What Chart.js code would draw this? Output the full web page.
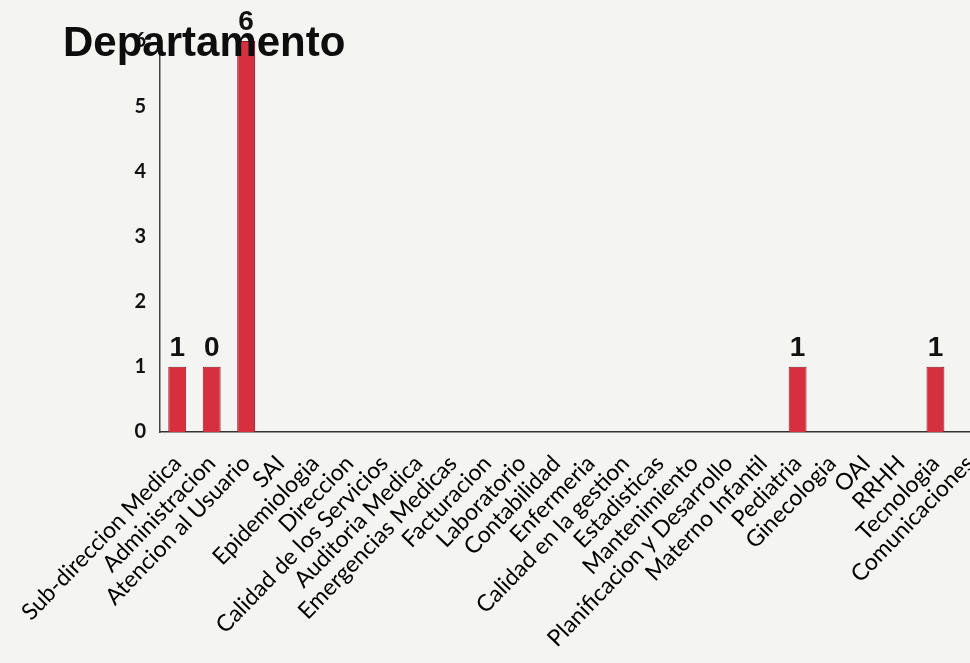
<!DOCTYPE html>
<html>
<head>
<meta charset="utf-8">
<script src="https://cdn.jsdelivr.net/npm/chart.js@4/dist/chart.umd.min.js"></script>
<style>
  html, body { margin: 0; padding: 0; background: #f4f4f3; overflow: hidden; }
  #myChart { display: block; }
</style>
</head>
<body>
<canvas id="myChart" width="1008" height="663"></canvas>
<script>
const departamentos = [
    'Sub-direccion Medica', 'Administracion', 'Atencion al Usuario', 'SAI',
    'Epidemiologia', 'Direccion', 'Calidad de los Servicios', 'Auditoria Medica',
    'Emergencias Medicas', 'Facturacion', 'Laboratorio', 'Contabilidad',
    'Enfermeria', 'Calidad en la gestion', 'Estadisticas', 'Mantenimiento',
    'Planificacion y Desarrollo', 'Materno Infantil', 'Pediatria', 'Ginecologia',
    'OAI', 'RRHH', 'Tecnologia', 'Comunicaciones'
];
const cantidades = [1, 1, 6, 0, 0, 0, 0, 0, 0, 0, 0, 0, 0, 0, 0, 0, 0, 0, 1, 0, 0, 0, 1, 0];
// etiquetas impresas sobre las barras (la segunda dice 0 en el original)
const etiquetas = ['1', '0', '6', '', '', '', '', '', '', '', '', '', '', '', '', '', '', '', '1', '', '', '', '1', ''];
const yTicks = [0, 1, 2, 3, 4, 5, 6];

const barLabels = {
    id: 'barLabels',
    afterDatasetsDraw(chart) {
        const ctx = chart.ctx;
        const meta = chart.getDatasetMeta(0);
        ctx.save();
        ctx.font = 'bold 28px "Liberation Sans", Lato, sans-serif';
        ctx.fillStyle = '#111';
        ctx.textAlign = 'center';
        ctx.textBaseline = 'bottom';
        meta.data.forEach((bar, i) => {
            if (etiquetas[i]) {
                ctx.fillText(etiquetas[i], bar.x, bar.y - 5);
            }
        });
        ctx.restore();
    }
};

const titulo = {
    id: 'titulo',
    afterDraw(chart) {
        const ctx = chart.ctx;
        ctx.save();
        ctx.font = 'bold 42px "Liberation Sans", sans-serif';
        ctx.fillStyle = '#0d0d0d';
        ctx.textBaseline = 'alphabetic';
        ctx.fillText('Departamento', 63, 56);
        ctx.restore();
    }
};

const ctx = document.getElementById('myChart');
const chart = new Chart(ctx, {
    type: 'bar',
    data: {
        labels: departamentos,
        datasets: [{
            data: cantidades,
            backgroundColor: '#d6303f',
            borderColor: '#8e1a26',
            borderWidth: 1,
            barPercentage: 0.52,
            categoryPercentage: 1
        }]
    },
    options: {
        responsive: false,
        animation: false,
        devicePixelRatio: 1,
        layout: {
            padding: { top: 41, right: 12, left: 0, bottom: 0 }
        },
        plugins: {
            legend: { display: false },
            tooltip: { enabled: false }
        },
        scales: {
            x: {
                grid: { display: false, drawTicks: false },
                border: { color: '#333', width: 1.5 },
                ticks: {
                    autoSkip: false,
                    minRotation: 46,
                    maxRotation: 46,
                    padding: 18,
                    color: '#000',
                    font: { family: 'Lato', size: 23 }
                },
                afterFit(scale) { scale.height = 231; }
            },
            y: {
                min: 0,
                max: 6,
                afterBuildTicks(scale) { scale.ticks = yTicks.map(v => ({ value: v })); },
                grid: { display: false, drawTicks: false },
                border: { color: '#444', width: 1.5 },
                ticks: {
                    padding: 14,
                    color: '#111',
                    font: { family: 'Lato', size: 20, weight: 'bold' }
                },
                afterFit(scale) { scale.width = 160; }
            }
        }
    },
    plugins: [barLabels, titulo]
});
</script>
</body>
</html>
